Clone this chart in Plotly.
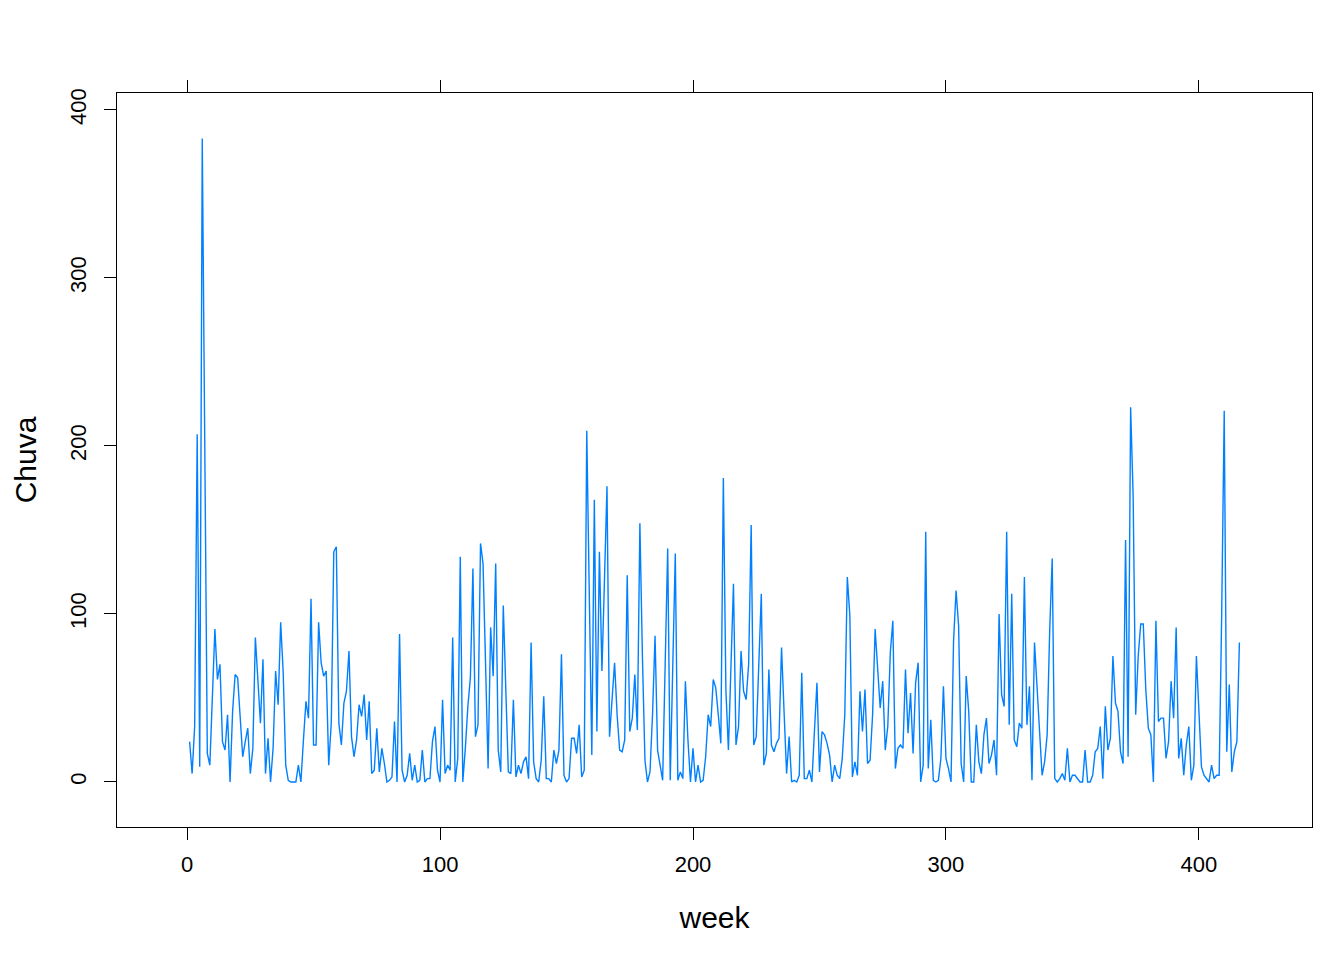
import plotly.graph_objects as go

# weekly rainfall (Chuva), weeks 1..416
chuva = [
    24, 5, 33, 207, 9, 383, 200, 17, 10, 55,
    91, 61, 70, 24, 19, 40, 0, 42, 64, 62,
    38, 15, 24, 32, 5, 20, 86, 62, 35, 73,
    5, 26, 0, 20, 66, 46, 95, 65, 10, 1,
    0, 0, 0, 10, 0, 25, 48, 38, 109, 22,
    22, 95, 71, 63, 66, 10, 35, 137, 140, 35,
    22, 47, 54, 78, 27, 15, 25, 46, 39, 52,
    25, 48, 5, 7, 32, 6, 20, 11, 0, 1,
    3, 36, 0, 88, 7, 0, 4, 17, 1, 10,
    0, 1, 19, 0, 2, 2, 24, 33, 7, 0,
    49, 5, 10, 7, 86, 0, 14, 134, 0, 20,
    45, 62, 127, 27, 34, 142, 130, 70, 8, 92,
    63, 130, 19, 6, 105, 55, 6, 5, 49, 3,
    10, 5, 12, 15, 2, 83, 12, 2, 0, 13,
    51, 2, 2, 0, 19, 11, 19, 76, 4, 0,
    2, 26, 26, 17, 34, 3, 7, 209, 110, 16,
    168, 30, 137, 66, 120, 176, 27, 48, 71, 40,
    19, 18, 25, 123, 30, 38, 64, 31, 154, 75,
    13, 0, 6, 40, 87, 19, 10, 1, 70, 139,
    1, 60, 136, 1, 6, 2, 60, 25, 0, 20,
    0, 10, 0, 1, 15, 40, 33, 61, 56, 40,
    23, 181, 55, 19, 70, 118, 22, 33, 78, 54,
    49, 70, 153, 22, 27, 70, 112, 10, 17, 67,
    22, 18, 23, 26, 80, 42, 5, 27, 0, 1,
    0, 4, 65, 2, 2, 7, 0, 30, 59, 6,
    30, 28, 23, 16, 0, 10, 4, 2, 14, 40,
    122, 99, 3, 12, 4, 54, 30, 55, 11, 13,
    40, 91, 65, 44, 60, 19, 33, 77, 96, 8,
    20, 22, 20, 67, 29, 53, 17, 59, 71, 0,
    10, 149, 8, 37, 1, 0, 1, 14, 57, 14,
    8, 0, 84, 114, 93, 11, 0, 63, 42, 0,
    0, 34, 12, 5, 28, 38, 11, 16, 25, 4,
    100, 52, 45, 149, 34, 112, 25, 21, 35, 32,
    122, 34, 57, 1, 83, 58, 33, 4, 12, 28,
    90, 133, 2, 0, 2, 5, 1, 20, 0, 4,
    4, 2, 0, 0, 19, 0, 0, 4, 18, 20,
    33, 2, 45, 19, 26, 75, 47, 42, 18, 11,
    144, 15, 223, 170, 40, 75, 94, 94, 55, 32,
    28, 0, 96, 36, 38, 38, 14, 24, 60, 38,
    92, 14, 26, 4, 22, 33, 1, 10, 75, 42,
    9, 4, 2, 0, 10, 2, 4, 4, 100, 221,
    18, 58, 6, 18, 24, 83,
]
week = list(range(1, len(chuva) + 1))

x_ticks = [0, 100, 200, 300, 400]
y_ticks = [0, 100, 200, 300, 400]

fig = go.Figure()
fig.add_trace(go.Scatter(x=week, y=chuva, mode='lines',
                         line=dict(color='#0080ff', width=1.4),
                         showlegend=False, hoverinfo='skip'))

tick_font = dict(family='Liberation Sans, Arial, sans-serif', size=22, color='black')
title_font = dict(family='Liberation Sans, Arial, sans-serif', size=30, color='black')

# the page body adds 8px, so the figure is a bit smaller than the window
fig.update_layout(
    width=1336, height=952,
    plot_bgcolor='white', paper_bgcolor='white',
    margin=dict(l=109, r=32, t=85, b=133),
    font=tick_font,
)
fig.update_xaxes(range=[-27.7, 444.7], tickvals=x_ticks, ticks='outside', ticklen=12,
                 tickcolor='black', showline=True, linecolor='black', linewidth=1,
                 mirror='ticks', showgrid=False, zeroline=False, ticklabelstandoff=6,
                 title=dict(text='week', font=title_font, standoff=30),
                 tickfont=tick_font)
fig.update_yaxes(range=[-26.8, 410.1], tickvals=y_ticks, ticks='outside', ticklen=12,
                 tickcolor='black', showline=True, linecolor='black', linewidth=1,
                 mirror=True, showgrid=False, zeroline=False, tickangle=-90,
                 ticklabelstandoff=9,
                 title=dict(text='Chuva', font=title_font, standoff=20),
                 tickfont=tick_font)

fig.write_html("out.html")
